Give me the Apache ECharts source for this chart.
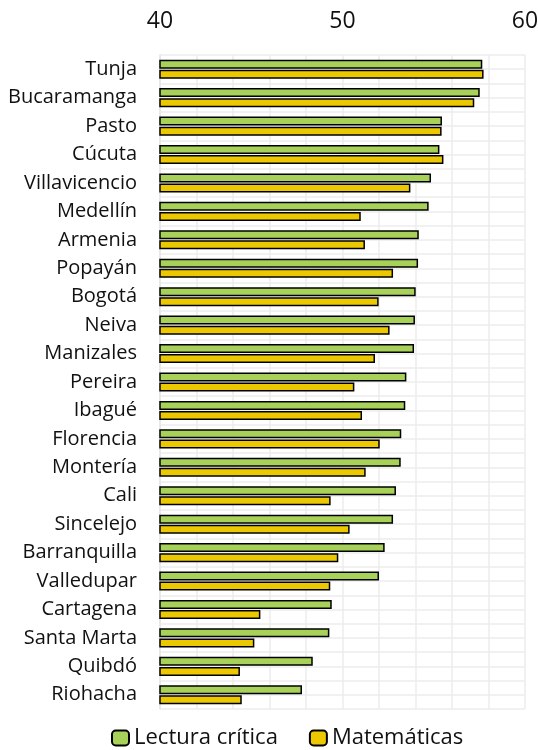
<!DOCTYPE html>
<html>
<head>
<meta charset="utf-8">
<script src="https://cdn.jsdelivr.net/npm/echarts@6/dist/echarts.min.js"></script>
<style>
  html, body { margin: 0; padding: 0; background: #fff; }
  #chart { width: 538px; height: 750px; }
</style>
</head>
<body>
<div id="chart"></div>
<script>
const cities = ["Tunja", "Bucaramanga", "Pasto", "Cúcuta", "Villavicencio", "Medellín", "Armenia", "Popayán", "Bogotá", "Neiva", "Manizales", "Pereira", "Ibagué", "Florencia", "Montería", "Cali", "Sincelejo", "Barranquilla", "Valledupar", "Cartagena", "Santa Marta", "Quibdó", "Riohacha"];
const lectura = [57.66, 57.52, 55.45, 55.31, 54.85, 54.72, 54.18, 54.14, 54.01, 53.97, 53.92, 53.5, 53.44, 53.22, 53.19, 52.93, 52.77, 52.31, 52.0, 49.41, 49.28, 48.37, 47.78];
const matematicas = [57.73, 57.22, 55.43, 55.53, 53.72, 51.0, 51.23, 52.77, 51.98, 52.58, 51.78, 50.65, 51.07, 52.04, 51.27, 49.35, 50.39, 49.77, 49.33, 45.5, 45.17, 44.38, 44.48];
const xTicks = [40, 50, 60];

const font = "'Open Sans', sans-serif";
const chart = echarts.init(document.getElementById("chart"));
chart.setOption({
  animation: false,
  textStyle: { fontFamily: font },
  grid: { left: 160, right: 13, top: 55, bottom: 41, outerBoundsMode: "none" },
  legend: {
    top: 722,
    left: 106,
    itemWidth: 17,
    itemHeight: 15,
    itemGap: 31,
    textStyle: { fontSize: 22, color: "#111", fontFamily: font },
    data: ["Lectura crítica", "Matemáticas"],
  },
  xAxis: {
    type: "value",
    position: "top",
    min: 40,
    max: 60,
    interval: 2,
    axisLine: { show: false },
    axisTick: { show: false },
    axisLabel: {
      fontSize: 23,
      color: "#111",
      margin: 22,
      formatter: (v) => (xTicks.includes(v) ? String(v) : ""),
    },
    splitLine: { lineStyle: { color: "#ececec", width: 1.5 } },
  },
  yAxis: [
    {
      type: "category",
      inverse: true,
      data: cities,
      axisLine: { show: true, lineStyle: { color: "#e6e6e6", width: 1.5 } },
      axisTick: { show: false },
      axisLabel: { fontSize: 20, color: "#111", margin: 23 },
      splitLine: { show: false },
    },
    {
      type: "value",
      min: 0,
      max: cities.length * 2,
      interval: 1,
      position: "right",
      axisLine: { show: false },
      axisTick: { show: false },
      axisLabel: { show: false },
      splitLine: { lineStyle: { color: "#ececec", width: 1.5 } },
    },
  ],
  series: [
    {
      name: "Lectura crítica",
      type: "bar",
      yAxisIndex: 0,
      data: lectura,
      barWidth: 9,
      barGap: "12%",
      itemStyle: { color: "#a8d15a", borderColor: "#000", borderWidth: 1.5 },
    },
    {
      name: "Matemáticas",
      type: "bar",
      yAxisIndex: 0,
      data: matematicas,
      barWidth: 9,
      barGap: "12%",
      itemStyle: { color: "#ebc800", borderColor: "#000", borderWidth: 1.5 },
    },
  ],
});
</script>
</body>
</html>
